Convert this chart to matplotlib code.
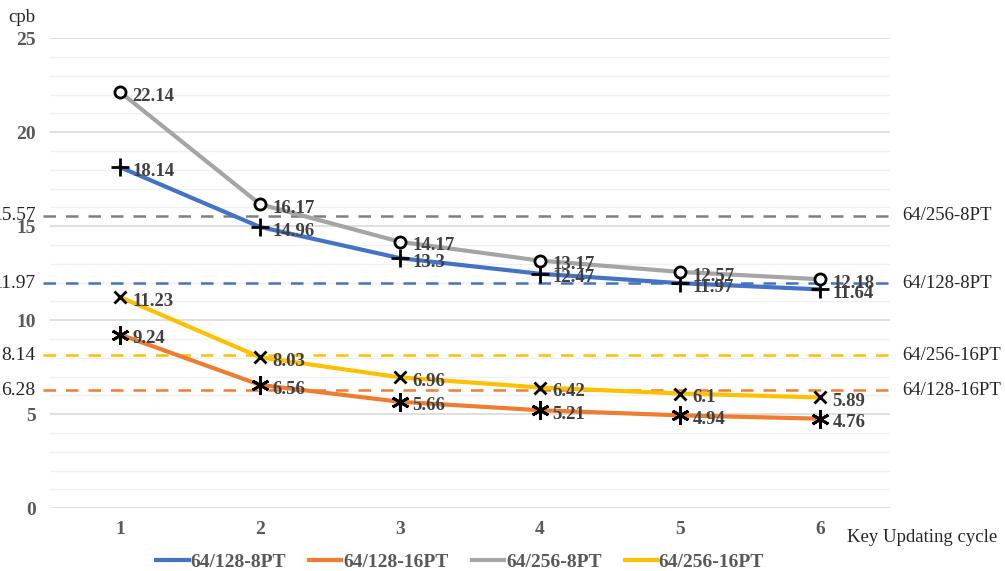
import matplotlib.pyplot as plt
from matplotlib.ticker import MultipleLocator

# Key updating cycles on the x axis
cycles = [1, 2, 3, 4, 5, 6]

# cpb for each configuration
s128_8 = [18.14, 14.96, 13.3, 12.47, 11.97, 11.64]
s128_16 = [9.24, 6.56, 5.66, 5.21, 4.94, 4.76]
s256_8 = [22.14, 16.17, 14.17, 13.17, 12.57, 12.18]
s256_16 = [11.23, 8.03, 6.96, 6.42, 6.1, 5.89]

# Reference (dashed) levels
ref_names = ["64/256-8PT", "64/128-8PT", "64/256-16PT", "64/128-16PT"]
ref_values = [15.57, 11.97, 8.14, 6.28]
ref_colors = ["#7f7f7f", "#4472C4", "#FFC000", "#ED7D31"]

plt.rcParams['font.family'] = ['Liberation Serif', 'DejaVu Serif']

fig = plt.figure(figsize=(10.05, 5.71), dpi=100)
ax = fig.add_axes([0.0498, 0.110, 0.8358, 0.823])

series = [
    ("64/128-8PT", s128_8, "#4472C4", "+", 13),
    ("64/128-16PT", s128_16, "#ED7D31", (6, 2, 0), 13),
    ("64/256-8PT", s256_8, "#A5A5A5", "o", 8),
    ("64/256-16PT", s256_16, "#FFC000", "x", 9),
]

for name, vals, col, mk, ms in series:
    ax.plot(cycles, vals, color=col, lw=3, label=name, zorder=3)
    if mk == "o":
        ax.plot(cycles, vals, ls="none", marker=mk, ms=ms, mfc="white",
                mec="black", mew=2, zorder=4)
    else:
        ax.plot(cycles, vals, ls="none", marker=mk, ms=ms, color="black",
                mew=2, zorder=4)
    for x, v in zip(cycles, vals):
        ax.annotate(str(v), (x, v), xytext=(9, -3), textcoords="offset points",
                    ha="left", va="center", fontsize=13.5, fontweight="bold",
                    color="#404040", zorder=5)

# dashed reference lines, value on the left (cut by the edge as in the source)
for name, v, col in zip(ref_names, ref_values, ref_colors):
    ax.plot([0.45, 6.5], [v, v], ls=(0, (5, 4)), color=col, lw=1.8,
            clip_on=False, zorder=2)
    ax.text(0.395, v, str(v), ha="right", va="center", fontsize=14,
            color="#262626", clip_on=False)
    ax.text(6.59, v, name, ha="left", va="center", fontsize=13.5,
            color="#262626")

ax.set_xlim(0.5, 6.5)
ax.set_ylim(0, 25)
ax.set_xticks(cycles)
ax.yaxis.set_major_locator(MultipleLocator(5))
ax.yaxis.set_minor_locator(MultipleLocator(1))
ax.grid(which="major", axis="y", color="#d9d9d9", lw=1.2, zorder=0)
ax.grid(which="minor", axis="y", color="#f0f0f0", lw=1, zorder=0)
ax.tick_params(which="both", length=0)
ax.tick_params(axis="y", pad=10)
ax.tick_params(axis="x", pad=9)
for lab in ax.get_xticklabels() + ax.get_yticklabels():
    lab.set_fontweight("bold")
    lab.set_color("#595959")
    lab.set_fontsize(14)
for sp in ax.spines.values():
    sp.set_visible(False)

fig.text(0.008, 0.962, "cpb", fontsize=13.5, color="#262626")
fig.text(0.843, 0.050, "Key Updating cycle", fontsize=13.5, color="#262626")

handles = [h for h in ax.get_lines() if h.get_label() in
           ["64/128-8PT", "64/128-16PT", "64/256-8PT", "64/256-16PT"]]
fig.legend(handles=handles, loc="center", bbox_to_anchor=(0.458, 0.016),
           ncol=4, frameon=False, handlelength=1.65, handletextpad=0.1,
           columnspacing=1.2, borderpad=0, prop={"weight": "bold", "size": 14})
for t in fig.legends[0].get_texts():
    t.set_color("#595959")

fig.savefig("out.png", dpi=100)
